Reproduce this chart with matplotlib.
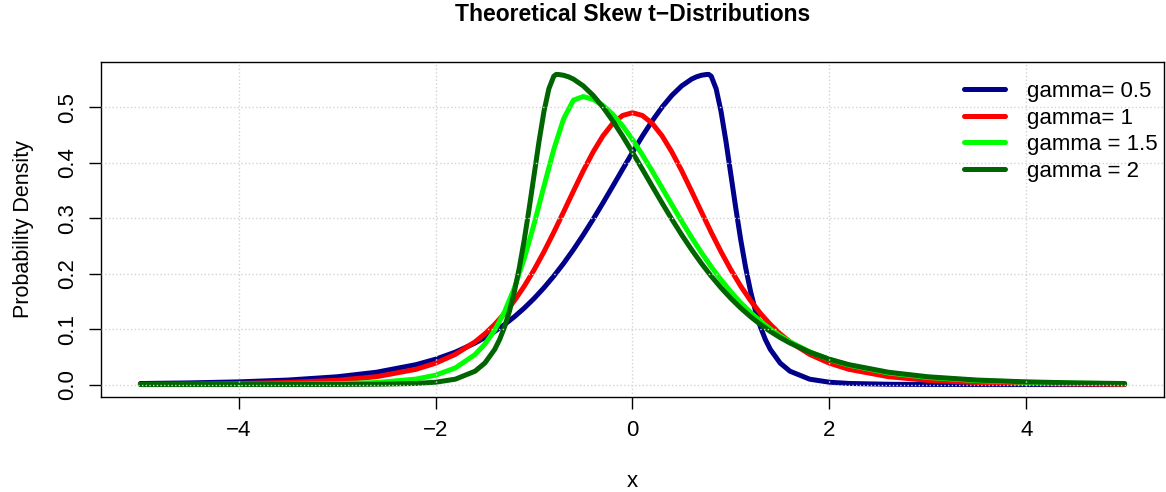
import matplotlib
matplotlib.use("Agg")
import matplotlib.pyplot as plt

plt.rcParams['font.family'] = ['Liberation Sans', 'DejaVu Sans']

# x grid and densities
x = [-5, -4.5, -4, -3.5, -3, -2.6, -2.2, -2.0, -1.8, -1.6,
     -1.5, -1.4, -1.3, -1.2, -1.1, -1.0, -0.9, -0.8, -0.7, -0.6,
     -0.5, -0.4, -0.3, -0.2, -0.1, 0.0, 0.1, 0.2, 0.3, 0.4,
     0.5, 0.6, 0.7, 0.8, 0.9, 1.0, 1.1, 1.2, 1.3, 1.4,
     1.5, 1.6, 1.8, 2.0, 2.2, 2.6, 3.0, 3.5, 4.0, 4.5, 5.0]

dens_g1 = [0.00060, 0.00105, 0.00193, 0.00373, 0.00766, 0.01423, 0.02746, 0.03858, 0.05446, 0.07699,
           0.09145, 0.10844, 0.12827, 0.15118, 0.17734, 0.20675, 0.23926, 0.27437, 0.31129, 0.34883,
           0.38547, 0.41935, 0.44850, 0.47100, 0.48522, 0.49009, 0.48522, 0.47100, 0.44850, 0.41935,
           0.38547, 0.34883, 0.31129, 0.27437, 0.23926, 0.20675, 0.17734, 0.15118, 0.12827, 0.10844,
           0.09145, 0.07699, 0.05446, 0.03858, 0.02746, 0.01423, 0.00766, 0.00373, 0.00193, 0.00105, 0.00060]

dens_g15 = [0.000058, 0.000114, 0.000243, 0.000568, 0.00150, 0.00364, 0.00987, 0.01697, 0.03000, 0.05410,
            0.07290, 0.09811, 0.13136, 0.17413, 0.22712, 0.28937, 0.35726, 0.42375, 0.47903, 0.51281,
            0.51926, 0.51422, 0.50336, 0.48717, 0.46636, 0.44175, 0.41433, 0.38501, 0.35470, 0.32422,
            0.29426, 0.26538, 0.23800, 0.21240, 0.18875, 0.16714, 0.14756, 0.12996, 0.11423, 0.10027,
            0.08792, 0.07703, 0.05909, 0.04536, 0.03490, 0.02090, 0.01277, 0.00712, 0.00412, 0.00247, 0.00153]

# gamma = 2 has a sharp peak, so it was read on a finer grid there
x_g2 = [-5, -4.5, -4, -3.5, -3, -2.6, -2.2, -2.0, -1.8, -1.6,
        -1.5, -1.4, -1.35, -1.3, -1.25, -1.2, -1.15, -1.1, -1.05, -1.0,
        -0.95, -0.9, -0.85, -0.8, -0.775, -0.75, -0.7, -0.65, -0.6,
        -0.5, -0.4, -0.3, -0.2, -0.1, 0.0, 0.1, 0.2, 0.3, 0.4,
        0.5, 0.6, 0.7, 0.8, 0.9, 1.0, 1.1, 1.2, 1.3, 1.4,
        1.5, 1.6, 1.8, 2.0, 2.2, 2.6, 3.0, 3.5, 4.0, 4.5, 5.0]

dens_g2 = [0.0000046, 0.0000097, 0.0000224, 0.000059, 0.000185, 0.00055, 0.00202, 0.00426, 0.00972, 0.02404,
           0.03883, 0.06343, 0.08120, 0.10382, 0.13231, 0.16761, 0.21037, 0.26061, 0.31728, 0.37782,
           0.43797, 0.49190, 0.53313, 0.55591, 0.55917, 0.55903, 0.55766, 0.55489, 0.55074,
           0.53849, 0.52139, 0.50007, 0.47529, 0.44786, 0.41861, 0.38833, 0.35776, 0.32750, 0.29810,
           0.26994, 0.24334, 0.21849, 0.19550, 0.17442, 0.15523, 0.13787, 0.12226, 0.10827, 0.09580,
           0.08471, 0.07488, 0.05849, 0.04574, 0.03586, 0.02226, 0.01406, 0.00814, 0.00487, 0.00300, 0.00190]

# gamma = 0.5 is the mirror image of gamma = 2
x_g05 = [-v for v in x_g2[::-1]]
dens_g05 = dens_g2[::-1]

labels = ['gamma= 0.5', 'gamma= 1', 'gamma = 1.5', 'gamma = 2']
colors = ['#00008B', '#FF0000', '#00FF00', '#006400']
xs = [x_g05, x, x, x_g2]
series = [dens_g05, dens_g1, dens_g15, dens_g2]

fig = plt.figure(figsize=(11.66, 4.92), dpi=100)
ax = fig.add_axes([0.0866, 0.1931, 0.9117, 0.6809])

for xv, dens, col, lab in zip(xs, series, colors, labels):
    ax.plot(xv, dens, color=col, lw=3.6, label=lab,
            solid_capstyle='round', solid_joinstyle='round')

ax.set_xlim(-5.4, 5.4)
ax.set_ylim(-0.0224, 0.5816)
ax.set_xticks([-4, -2, 0, 2, 4])
ax.set_yticks([0.0, 0.1, 0.2, 0.3, 0.4, 0.5])
ax.set_yticklabels(['0.0', '0.1', '0.2', '0.3', '0.4', '0.5'], rotation=90, va='center')
ax.tick_params(axis='both', labelsize=16, length=8.6, width=1, direction='out')
ax.tick_params(axis='x', pad=8)
ax.tick_params(axis='y', pad=7.5)
ax.grid(True, color='#D3D3D3', linestyle=':', lw=1, zorder=5)
ax.set_axisbelow(False)
for s in ax.spines.values():
    s.set_linewidth(1)

fig.text(0.5429, 1 - 14.7 / 492, 'Theoretical Skew t\u2212Distributions',
         fontsize=16.5, fontweight='bold', ha='center', va='center')
ax.set_xlabel('x', fontsize=16, va='center')
ax.xaxis.set_label_coords(0.5, -0.251)
ax.set_ylabel('Probability Density', fontsize=15.5, va='center')
ax.yaxis.set_label_coords(-0.073, 0.5)

ax.legend(loc='upper right', bbox_to_anchor=(0.9944, 0.943), frameon=False, fontsize=16,
          handlelength=1.85, handletextpad=1.0, labelspacing=0.25,
          borderaxespad=0, borderpad=0)

fig.savefig('out.png', dpi=100)
